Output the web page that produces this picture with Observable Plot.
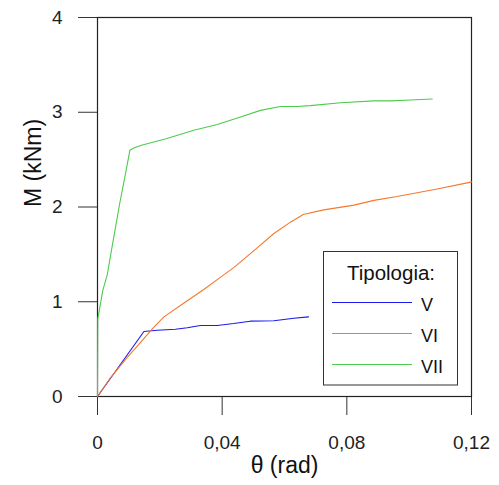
<!DOCTYPE html>
<html>
<head>
<meta charset="utf-8">
<script src="https://cdn.jsdelivr.net/npm/d3@7"></script>
<script src="https://cdn.jsdelivr.net/npm/@observablehq/plot@0.6"></script>
<style>
  html, body { margin: 0; padding: 0; background: #fff; }
  #chart { position: relative; width: 499px; height: 485px; }
</style>
</head>
<body>
<div id="chart"></div>
<script>
// Series V
const thetaV = [0, 0.0149, 0.0191, 0.0250, 0.0288, 0.0330, 0.0384, 0.0437, 0.0490, 0.0566, 0.0630, 0.0677];
const mV     = [0, 0.686, 0.70, 0.71, 0.725, 0.75, 0.75, 0.77, 0.795, 0.80, 0.826, 0.84];
// Series VI
const thetaVI = [0, 0.0042, 0.0095, 0.0143, 0.0175, 0.0213, 0.0288, 0.0341, 0.0395, 0.0437, 0.0502, 0.0566, 0.0619, 0.0660, 0.0726, 0.0823, 0.0887, 0.0961, 0.1090, 0.1186, 0.1200];
const mVI     = [0, 0.20, 0.41, 0.59, 0.71, 0.84, 1.01, 1.13, 1.26, 1.36, 1.54, 1.72, 1.84, 1.92, 1.97, 2.02, 2.07, 2.11, 2.19, 2.255, 2.265];
// Series VII
const thetaVII = [0, 0.0001, 0.0017, 0.0031, 0.0052, 0.0072, 0.0092, 0.0104, 0.0115, 0.0138, 0.0220, 0.0309, 0.0384, 0.0459, 0.0523, 0.0587, 0.0640, 0.0683, 0.0780, 0.0887, 0.0940, 0.1004, 0.1074];
const mVII     = [0, 0.82, 1.12, 1.28, 1.68, 2.05, 2.39, 2.60, 2.62, 2.65, 2.72, 2.81, 2.87, 2.95, 3.02, 3.06, 3.06, 3.07, 3.10, 3.12, 3.12, 3.13, 3.14];

const seriesNames = ["V", "VI", "VII"];
const seriesColors = ["#1a1aee", "#f7782c", "#4ccc4c"];
const xTicks = [0, 0.04, 0.08, 0.12];
const yTicks = [0, 1, 2, 3, 4];
const xLabel = "θ (rad)";
const yLabel = "M (kNm)";
const legendTitle = "Tipologia:";

const toRows = (name, xs, ys) => xs.map((x, i) => ({serie: name, theta: x, m: ys[i]}));
const rows = [
  ...toRows("V", thetaV, mV),
  ...toRows("VI", thetaVI, mVI),
  ...toRows("VII", thetaVII, mVII)
];

const fmt = d => d === 0 ? "0" : d.toFixed(2).replace(".", ",");
const FONT = "'Liberation Sans', Arial, sans-serif";

const plot = Plot.plot({
  width: 499,
  height: 485,
  marginLeft: 97,
  marginRight: 28,
  marginTop: 17,
  marginBottom: 89,
  style: {fontFamily: FONT, background: "#fff", color: "#222"},
  x: {domain: [0, 0.12]},
  y: {domain: [0, 4]},
  color: {domain: seriesNames, range: seriesColors},
  marks: [
    Plot.axisX({ticks: xTicks, tickFormat: fmt, tickSize: 19, tickPadding: 20, fontSize: 19, label: null, stroke: "#333"}),
    Plot.axisY({ticks: yTicks, tickFormat: d => String(d), tickSize: 19, tickPadding: 16, fontSize: 19, label: null, stroke: "#333"}),
    Plot.frame({stroke: "#222", strokeWidth: 1.2}),
    Plot.line(rows, {x: "theta", y: "m", z: "serie", stroke: "serie", strokeWidth: 1.1}),
    Plot.text([xLabel], {frameAnchor: "bottom", dy: 76, fontSize: 23, fill: "#111"}),
    Plot.text([yLabel], {frameAnchor: "left", dx: -64, rotate: -90, fontSize: 23, fill: "#111"})
  ]
});

document.getElementById("chart").appendChild(plot);

// Legend box
const svg = d3.select(plot);
const g = svg.append("g").attr("font-family", FONT);
g.append("rect").attr("x", 323.5).attr("y", 251.5).attr("width", 134).attr("height", 133.5)
  .attr("fill", "#fff").attr("stroke", "#333").attr("stroke-width", 1);
g.append("text").attr("x", 391).attr("y", 280).attr("text-anchor", "middle")
  .attr("font-size", 20.5).attr("fill", "#111").text(legendTitle);
seriesNames.forEach((name, i) => {
  const yy = 302.5 + i * 31;
  g.append("line").attr("x1", 332).attr("x2", 412).attr("y1", yy).attr("y2", yy)
    .attr("stroke", seriesColors[i]).attr("stroke-width", 1.1);
  g.append("text").attr("x", 421).attr("y", yy + 8.3).attr("text-anchor", "start")
    .attr("font-size", 18).attr("fill", "#111").text(name);
});
</script>
</body>
</html>
